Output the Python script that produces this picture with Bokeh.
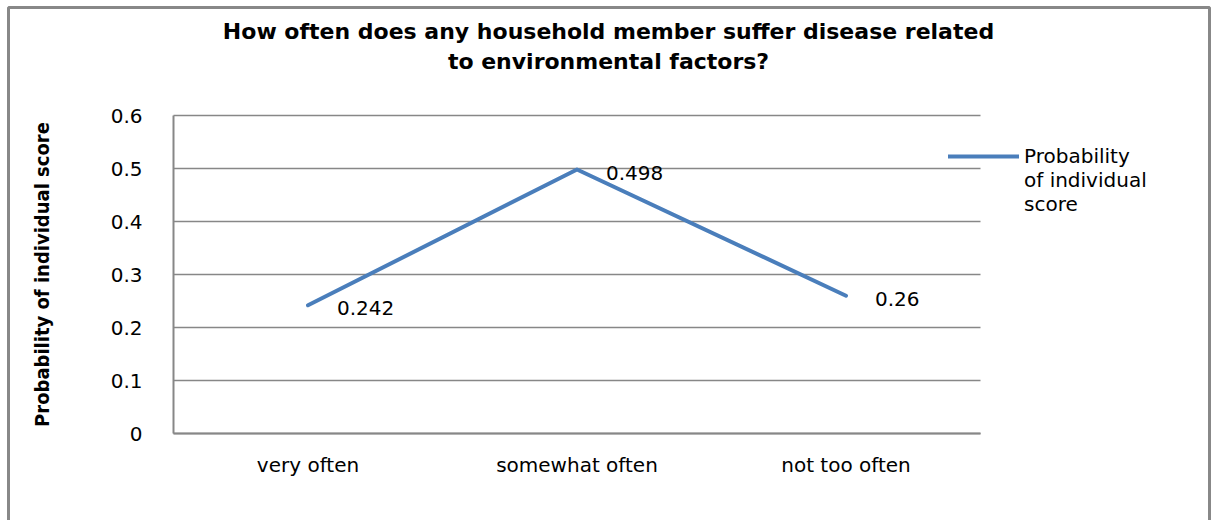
from bokeh.plotting import figure
from bokeh.models import (ColumnDataSource, Range1d, FixedTicker, Legend, LegendItem,
                          LabelSet, Label, BoxAnnotation)
from bokeh.core.properties import value
from bokeh.embed import file_html
from bokeh.resources import INLINE

# Survey answers and the probability of each score
categories = ["very often", "somewhat often", "not too often"]
probabilities = [0.242, 0.498, 0.26]
value_labels = ["0.242", "0.498", "0.26"]
y_ticks = [0, 0.1, 0.2, 0.3, 0.4, 0.5, 0.6]

series_lines = ["Probability", "of individual", "score"]
title_lines = ["How often does any household member suffer disease related",
               "to environmental factors?"]
y_axis_title = "Probability of individual score"

# page and plotting-area geometry (pixels)
W, H = 1214, 520
AREA_LEFT, AREA_BOTTOM = 173, 433      # where x = -0.5 and y = 0 sit
PX_PER_CAT = 269                       # width of one category slot
PX_PER_UNIT = 530                      # vertical pixels per 1.0 of probability

GRID = "#878787"
LINE = "#4A7EBB"
FONT = "DejaVu Sans"

x_pos = list(range(len(categories)))
x_lo, x_hi = -0.5, len(categories) - 0.5
x_range = Range1d(x_lo - AREA_LEFT / PX_PER_CAT, x_lo + (W - AREA_LEFT) / PX_PER_CAT)
y_range = Range1d(-(H - AREA_BOTTOM) / PX_PER_UNIT, AREA_BOTTOM / PX_PER_UNIT)

source = ColumnDataSource(dict(x=x_pos, p=probabilities, lbl=value_labels))

p = figure(width=W, height=H, x_range=x_range, y_range=y_range,
           output_backend="svg", toolbar_location=None,
           min_border=0, min_border_left=0, min_border_right=0,
           min_border_top=0, min_border_bottom=0)
p.outline_line_color = None
p.background_fill_color = "white"
p.border_fill_color = "white"
p.xgrid.grid_line_color = None
p.ygrid.grid_line_color = None

# horizontal grid lines across the category slots
p.segment(x0=[x_lo] * len(y_ticks), x1=[x_hi] * len(y_ticks), y0=y_ticks, y1=y_ticks,
          line_color=GRID, line_width=1.5)

# axes drawn inside the canvas at the edges of the category slots
xa, ya = p.xaxis[0], p.yaxis[0]
xa.fixed_location = 0
xa.bounds = (x_lo, x_hi)
xa.ticker = FixedTicker(ticks=x_pos)
xa.major_label_overrides = {i: c for i, c in zip(x_pos, categories)}
ya.fixed_location = x_lo
ya.bounds = (0, 0.6)
ya.ticker = FixedTicker(ticks=y_ticks)
ya.major_label_overrides = {0: "0"}
for ax in (xa, ya):
    ax.axis_line_color = GRID
    ax.axis_line_width = 2
    ax.major_tick_line_color = None
    ax.minor_tick_line_color = None
    ax.major_label_text_font = FONT
    ax.major_label_text_font_size = "20px"
    ax.major_label_text_color = "black"
ya.major_label_standoff = 25
xa.major_label_standoff = 13
ya.axis_label = y_axis_title
ya.axis_label_text_font = "'Liberation Sans Narrow', 'DejaVu Sans Condensed', 'Roboto'"
ya.axis_label_text_font_size = "20px"
ya.axis_label_text_font_style = "bold"
ya.axis_label_text_color = "black"
ya.axis_label_standoff = 54

# the series
r = p.line("x", "p", source=source, line_color=LINE, line_width=4, line_cap="round",
           line_join="round")

labels = LabelSet(x="x", y="p", text="lbl", source=source, x_offset=29, y_offset=-3,
                  text_font=value(FONT), text_font_size="20px", text_color="black",
                  text_baseline="middle", text_align="left")
p.add_layout(labels)

# title, one centred label per line
for i, line in enumerate(title_lines):
    p.add_layout(Label(x=608, y=H - 31 - 30 * i, x_units="screen", y_units="screen",
                       text=line, text_align="center", text_baseline="middle",
                       text_font=FONT, text_font_size="22px", text_font_style="bold",
                       text_color="black"))

# legend: two blank lines on top keep the swatch level with the first word
legend_label = "\n\n" + "\n".join(series_lines)
legend = Legend(items=[LegendItem(label=legend_label, renderers=[r])],
                location=(948, 304), padding=0, margin=0, spacing=0,
                glyph_width=71, glyph_height=20, label_standoff=5,
                label_text_font=FONT, label_text_font_size="20px",
                label_text_color="black", label_text_line_height=1.45,
                border_line_color=None, background_fill_alpha=0)
p.add_layout(legend)

# grey frame around the whole chart
p.add_layout(BoxAnnotation(left=8, right=W - 5, top=H - 7, bottom=-20,
                           left_units="screen", right_units="screen",
                           top_units="screen", bottom_units="screen",
                           fill_color=None, fill_alpha=0,
                           line_color="#888888", line_alpha=1, line_width=3))

open("out.html", "w").write(file_html(p, INLINE))
